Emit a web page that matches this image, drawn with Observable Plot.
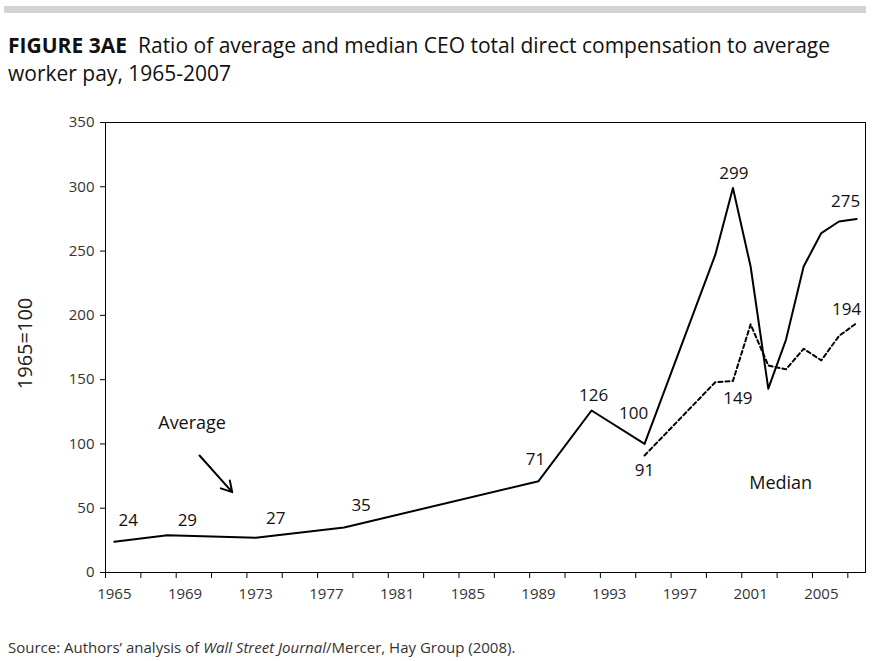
<!DOCTYPE html>
<html>
<head>
<meta charset="utf-8">
<script src="https://cdn.jsdelivr.net/npm/d3@7"></script>
<script src="https://cdn.jsdelivr.net/npm/@observablehq/plot@0.6"></script>
<style>
  html, body { margin: 0; padding: 0; background: #fff; }
  #wrap { position: relative; width: 885px; height: 661px; overflow: hidden; font-family: "Open Sans", sans-serif; color: #111; }
  #bar { position: absolute; left: 4px; top: 6px; width: 862px; height: 7px; background: #d3d3d3; }
  .t { position: absolute; font-size: 21px; line-height: 28px; white-space: nowrap; }
  #tb { left: 8px; top: 31px; font-weight: 700; }
  #t1 { left: 138px; top: 31px; }
  #t2 { left: 8px; top: 59px; }
  #chart { position: absolute; left: 0; top: 100px; }
  #source { position: absolute; left: 8px; top: 637px; font-size: 15px; color: #333; white-space: nowrap; }
</style>
</head>
<body>
<div id="wrap">
  <div id="bar"></div>
  <div class="t" id="tb">FIGURE 3AE</div>
  <div class="t" id="t1">Ratio of average and median CEO total direct compensation to average</div>
  <div class="t" id="t2">worker pay, 1965-2007</div>
  <div id="chart"></div>
  <div id="source">Source: Authors’ analysis of <i>Wall Street Journal</i>/Mercer, Hay Group (2008).</div>
</div>
<script>
// ---- Data ----
const avgYears  = [1965, 1968, 1973, 1978, 1989, 1992, 1995, 1999, 2000, 2001, 2002, 2003, 2004, 2005, 2006, 2007];
const avgValues = [24,   29,   27,   35,   71,   126,  100,  247,  299,  238,  143,  181,  238,  264,  273,  275];
const medYears  = [1995, 1999, 2000, 2001, 2002, 2003, 2004, 2005, 2006, 2007];
const medValues = [91,   148,  149,  193,  161,  158,  174,  165,  184,  194];
const avgLabelYears = [1965, 1968, 1973, 1978, 1989, 1992, 1995, 2000, 2007];
const medLabelYears = [1995, 2000, 2007];
const xLabelYears = [1965, 1969, 1973, 1977, 1981, 1985, 1989, 1993, 1997, 2001, 2005];
const yTicks = [0, 50, 100, 150, 200, 250, 300, 350];
const seriesNames = ["Average", "Median"];

// ---- Styling (label offsets in px, annotation anchors) ----
const avgLabelOffsets = [[14, -21], [20, -15], [20, -19], [17, -22], [-3, -22], [2, -15], [-11, -30], [1, -15], [-11, -17]];
const medLabelOffsets = [[0, 15], [5, 18], [-10, -14]];
const seriesNamePos = [[1969.4, 116.3], [2002.7, 69.6]];
const arrowPos = {x1: 1969.82, y1: 91, x2: 1971.67, y2: 62.5};

const avg = avgYears.map((y, i) => ({year: y, value: avgValues[i]}));
const med = medYears.map((y, i) => ({year: y, value: medValues[i]}));
const avgLabels = avgLabelYears.map((y, i) => ({year: y, value: avgValues[avgYears.indexOf(y)], dx: avgLabelOffsets[i][0], dy: avgLabelOffsets[i][1]}));
const medLabels = medLabelYears.map((y, i) => ({year: y, value: medValues[medYears.indexOf(y)], dx: medLabelOffsets[i][0], dy: medLabelOffsets[i][1]}));
const tickMarks = d3.range(xLabelYears[0] - 0.5, xLabelYears[xLabelYears.length - 1] + 2, 2);

const labelMarks = [...avgLabels, ...medLabels].map(d =>
  Plot.text([d], {x: "year", y: "value", text: d => String(d.value), dx: d.dx, dy: d.dy, fontSize: 17, fill: "#111"})
);

const chart = Plot.plot({
  width: 885,
  height: 520,
  marginLeft: 105,
  marginRight: 20,
  marginTop: 22,
  marginBottom: 48,
  x: {domain: [1964.5, 2007.5]},
  y: {domain: [0, 350]},
  style: {fontFamily: "Open Sans, sans-serif", fontSize: "15px", color: "#333", background: "white", overflow: "visible"},
  marks: [
    Plot.axisY({ticks: yTicks, tickSize: 5, tickPadding: 6, label: null, fontSize: 15, stroke: "black"}),
    Plot.axisX({ticks: tickMarks, tickSize: 6, tickFormat: () => "", label: null, stroke: "black"}),
    Plot.axisX({ticks: xLabelYears, tickSize: 0, tickPadding: 16, tickFormat: d => String(d), label: null, fontSize: 15}),
    Plot.frame({stroke: "black", strokeWidth: 1}),
    Plot.line(avg, {x: "year", y: "value", stroke: "black", strokeWidth: 2}),
    Plot.line(med, {x: "year", y: "value", stroke: "black", strokeWidth: 2, strokeDasharray: "4,3"}),
    ...labelMarks,
    Plot.text(seriesNames, {x: (d, i) => seriesNamePos[i][0], y: (d, i) => seriesNamePos[i][1], text: d => d, fontSize: 18, fill: "#111"}),
    Plot.arrow([arrowPos], {x1: "x1", y1: "y1", x2: "x2", y2: "y2", stroke: "black", strokeWidth: 2, headLength: 9}),
    Plot.text(["1965=100"], {frameAnchor: "left", dx: -80, dy: -4, rotate: -90, textAnchor: "middle", fontSize: 20, fill: "#222"})
  ]
});
document.getElementById("chart").appendChild(chart);
</script>
</body>
</html>
